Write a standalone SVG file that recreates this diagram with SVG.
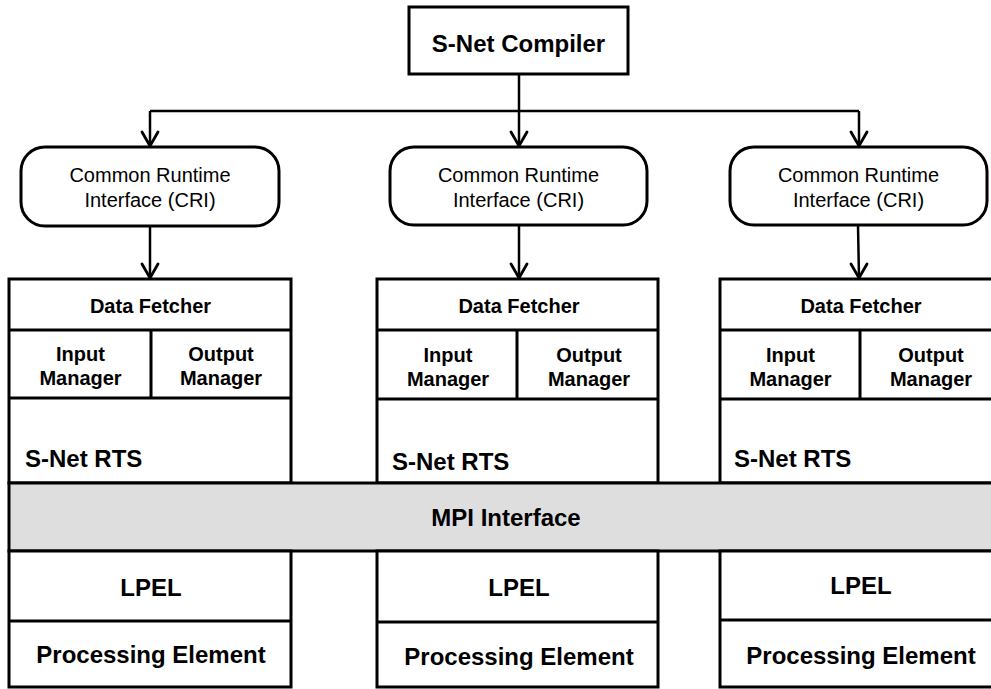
<svg xmlns="http://www.w3.org/2000/svg" width="991" height="689" viewBox="0 0 991 689">
<style>
.box{fill:#fff;stroke:#000;stroke-width:3}
.ln{fill:none;stroke:#000;stroke-width:3}
.con{fill:none;stroke:#000;stroke-width:2.5}
.head{fill:none;stroke:#000;stroke-width:2.8;stroke-linecap:round;stroke-linejoin:miter}
.band{fill:#dedede;stroke:#000;stroke-width:3}
.t{font-family:"Liberation Sans",Arial,sans-serif;fill:#000;text-anchor:middle}
.r{font-size:20px}
.b20{font-size:20px;font-weight:bold}
.b24{font-size:24px;font-weight:bold}
.s{text-anchor:start}
</style>
<defs>
<path id="ah" class="head" d="M-8,-15 L0,-1 L8,-15"/>
</defs>
<rect width="991" height="689" fill="#fff"/>

<g id="connectors">
<path class="con" d="M519,74 V111"/>
<path class="con" d="M150,111 H859"/>
<path class="con" d="M150,111 V146"/>
<path class="con" d="M519,111 V146"/>
<path class="con" d="M859,111 V146"/>
<path class="con" d="M150,226 V278"/>
<path class="con" d="M519,225 V278"/>
<path class="con" d="M858,225 L859,278"/>
<use href="#ah" x="150" y="147"/>
<use href="#ah" x="519" y="147"/>
<use href="#ah" x="859" y="147"/>
<use href="#ah" x="150" y="279"/>
<use href="#ah" x="519" y="279"/>
<use href="#ah" x="859" y="279"/>
</g>

<g id="compiler">
<rect class="box" x="409" y="7" width="219" height="67"/>
<text class="t b24" x="518.5" y="52">S-Net Compiler</text>
</g>

<g id="cri1">
<rect class="box" x="21" y="147" width="258" height="79" rx="24"/>
<text class="t r" x="150" y="182">Common Runtime</text>
<text class="t r" x="150" y="207">Interface (CRI)</text>
</g>
<g id="cri2">
<rect class="box" x="390" y="147" width="257" height="78" rx="24"/>
<text class="t r" x="518.5" y="182">Common Runtime</text>
<text class="t r" x="518.5" y="207">Interface (CRI)</text>
</g>
<g id="cri3">
<rect class="box" x="730" y="147" width="257" height="78" rx="24"/>
<text class="t r" x="858.5" y="182">Common Runtime</text>
<text class="t r" x="858.5" y="207">Interface (CRI)</text>
</g>

<g id="rts1">
<rect class="box" x="9" y="279" width="282" height="204"/>
<path class="ln" d="M9,330 H291 M9,398 H291 M151,330 V398"/>
<text class="t b20" x="150.5" y="313">Data Fetcher</text>
<text class="t b20" x="80.5" y="361">Input</text>
<text class="t b20" x="80.5" y="385">Manager</text>
<text class="t b20" x="221" y="361">Output</text>
<text class="t b20" x="221" y="385">Manager</text>
<text class="t b24 s" x="25" y="467">S-Net RTS</text>
</g>
<g id="rts2">
<rect class="box" x="377" y="279" width="281" height="204"/>
<path class="ln" d="M377,330 H658 M377,399 H658 M517,330 V399"/>
<text class="t b20" x="519" y="313">Data Fetcher</text>
<text class="t b20" x="448" y="362">Input</text>
<text class="t b20" x="448" y="386">Manager</text>
<text class="t b20" x="589" y="362">Output</text>
<text class="t b20" x="589" y="386">Manager</text>
<text class="t b24 s" x="392" y="470">S-Net RTS</text>
</g>
<g id="rts3">
<rect class="box" x="720" y="279" width="284" height="204"/>
<path class="ln" d="M720,330 H1004 M720,399 H1004 M860,330 V399"/>
<text class="t b20" x="861" y="313">Data Fetcher</text>
<text class="t b20" x="790.5" y="362">Input</text>
<text class="t b20" x="790.5" y="386">Manager</text>
<text class="t b20" x="931" y="362">Output</text>
<text class="t b20" x="931" y="386">Manager</text>
<text class="t b24 s" x="734" y="467">S-Net RTS</text>
</g>

<g id="mpi">
<rect class="band" x="9" y="483" width="995" height="68"/>
<text class="t b24" x="506" y="526">MPI Interface</text>
</g>

<g id="pe1">
<rect class="box" x="9" y="551" width="282" height="136"/>
<path class="ln" d="M9,621 H291"/>
<text class="t b24" x="151" y="596">LPEL</text>
<text class="t b24" x="151" y="663">Processing Element</text>
</g>
<g id="pe2">
<rect class="box" x="377" y="551" width="281" height="136"/>
<path class="ln" d="M377,622 H658"/>
<text class="t b24" x="519" y="596">LPEL</text>
<text class="t b24" x="519" y="665">Processing Element</text>
</g>
<g id="pe3">
<rect class="box" x="720" y="551" width="284" height="136"/>
<path class="ln" d="M720,620 H1004"/>
<text class="t b24" x="861" y="594">LPEL</text>
<text class="t b24" x="861" y="664">Processing Element</text>
</g>
</svg>
